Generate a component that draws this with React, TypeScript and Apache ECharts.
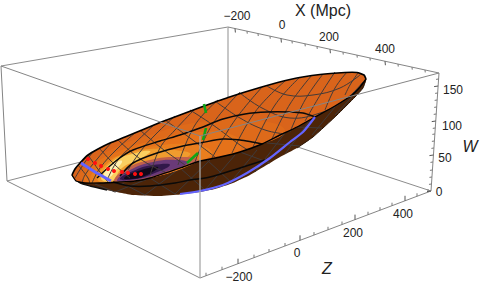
import React, { useEffect, useRef } from "react";
import * as echarts from "echarts";

type P = number[];

// Box edges
const backEdges: P[][] = [
  [[1, 66], [228, 27]],
  [[7, 181], [228, 124]],
  [[431, 191], [228, 124]],
];
const backVertical: P[][] = [[[228, 27], [228, 124]]];
const frontEdges: P[][] = [
  [[228, 27], [439, 73]],
  [[1, 66], [200, 136]],
  [[439, 73], [200, 136]],
  [[7, 181], [200, 278]],
  [[200, 278], [431, 191]],
  [[1, 66], [7, 181]],
  [[431, 191], [439, 73]],
];
const frontVertical: P[][] = [[[200, 136], [200, 278]]];

// Tick positions along the axes
const xMajor = [235, 281, 330, 385];
const xMinor = [247, 258, 270, 292, 305, 317, 343, 357, 370, 398, 412, 425];
const zMajor = [238, 300, 355, 405];
const zMinor = [206, 222, 254, 269, 285, 314, 328, 342, 368, 380, 392, 417, 428];
const wMajor = [191, 155, 121, 86];
const wMinor = [184, 177, 170, 162, 148, 141, 134, 128, 114, 107, 100, 93, 79];

const xTickLabels = ["−200", "0", "200", "400"];
const xLabelPos: P[] = [[237, 16], [282, 25], [329, 37], [385, 49]];
const zTickLabels = ["−200", "0", "200", "400"];
const zLabelPos: P[] = [[239, 277], [297, 253], [353, 233], [403, 214]];
const wTickLabels = ["0", "50", "100", "150"];
const wLabelPos: P[] = [[439, 192], [445, 158], [452, 126], [453, 90]];

// Surface
const body: P[] = [[366, 79], [363, 88], [355, 97], [337, 115], [313, 137], [297, 148], [280, 157], [265, 166], [250, 175], [233, 183], [215, 189], [200, 192], [180, 194.5], [160, 196], [133, 195], [107, 190], [90, 186], [80, 183], [72, 175]];
const topRim: P[] = [[72, 175], [75, 169], [80, 163], [88, 155], [98, 149], [110, 143], [125, 137], [142, 130], [160, 122.5], [180, 115], [200, 107.5], [228, 97.5], [260, 87.5], [290, 79.5], [320, 74.5], [345, 72.5], [357, 72.5], [364, 75], [366, 79]];
const frontRim: P[] = [[366, 79], [360, 87], [352, 95], [335, 106], [315, 117], [297, 127], [280, 135], [262, 144], [240, 152], [220, 157], [200, 161], [183, 167], [150, 178], [135, 181], [120, 182], [100, 183], [85, 183], [76, 181], [72, 175]];
const lens: P[] = [...topRim, ...frontRim];

const shades: P[][] = [
  [[80, 178], [88, 165], [110, 150], [150, 135], [200, 122], [250, 120], [285, 130], [260, 145], [210, 158], [150, 178], [100, 183]],
  [[84, 180], [92, 166], [115, 153], [155, 140], [200, 132], [235, 136], [240, 150], [210, 158], [150, 178], [100, 183]],
  [[90, 181], [100, 165], [120, 155], [155, 146], [195, 145], [212, 152], [205, 159], [150, 178], [100, 183]],
  [[97, 179], [108, 163], [125, 154], [150, 149], [175, 150], [190, 155], [150, 172], [115, 182]],
  [[101, 178], [112, 162], [128, 155], [150, 151], [140, 159], [122, 168], [112, 181]],
  [[104, 174], [113, 164], [122, 161], [116, 170], [108, 178]],
  [[114, 181], [126, 169], [150, 160], [180, 157], [198, 160], [183, 167], [150, 178], [125, 182]],
  [[117, 180], [130, 170], [153, 162], [178, 160], [188, 163], [165, 172], [145, 178], [125, 181]],
  [[120, 179], [133, 171], [153, 165], [170, 165], [150, 175], [135, 179]],
  [[124, 178], [138, 171], [158, 167], [147, 175], [132, 179]],
];
const shadeColors = ["#de6a1a", "#e5721a", "#e97e1e", "#f09c2e", "#fbd060", "#fff0b0", "#c0604c", "#6a3a78", "#32184a", "#10081a"];

const meshTop: P[][] = [
  [[358, 73], [350, 85], [345, 95]],
  [[347, 72], [335, 88], [325, 110]],
  [[335, 72], [322, 92], [305, 121]],
  [[323, 74], [305, 100], [290, 132]],
  [[312, 75], [290, 104], [272, 139]],
  [[300, 77], [275, 105], [253, 147]],
  [[285, 81], [255, 112], [232, 153]],
  [[263, 86], [235, 120], [212, 158]],
  [[240, 92], [212, 125], [195, 162]],
  [[218, 100], [195, 125], [178, 165]],
  [[195, 109], [175, 130], [160, 148], [150, 176]],
  [[175, 116], [155, 135], [140, 152], [128, 170]],
  [[155, 124], [135, 143], [118, 160], [108, 178]],
  [[135, 133], [118, 148], [100, 168], [92, 183]],
  [[112, 142], [98, 158], [85, 175], [82, 183]],
  [[95, 150], [85, 162], [75, 178]],
  [[267, 86], [287, 95], [313, 95], [340, 88], [360, 75]],
  [[240, 93], [262, 108], [290, 118], [320, 113], [345, 100], [363, 82]],
  [[215, 101], [240, 118], [265, 130], [285, 134]],
  [[190, 110], [213, 125], [240, 145], [248, 150]],
  [[165, 120], [190, 138], [215, 157]],
  [[140, 130], [160, 147], [185, 165]],
  [[118, 140], [135, 155], [150, 165], [165, 172]],
  [[100, 149], [115, 165], [130, 178]],
  [[88, 155], [100, 172], [108, 182]],
  [[78, 165], [88, 178], [90, 184]],
];
const meshUnder: P[][] = [
  [[240, 152], [270, 163]],
  [[207, 160], [232, 183]],
  [[180, 168], [205, 190]],
  [[150, 178], [175, 194]],
  [[120, 182], [145, 195]],
  [[95, 184], [115, 192]],
  [[267, 143], [300, 146]],
  [[297, 127], [322, 128]],
  [[230, 183], [257, 150]],
  [[205, 190], [235, 155]],
  [[175, 194], [210, 160]],
  [[145, 195], [180, 168]],
  [[115, 192], [150, 178]],
  [[255, 172], [285, 133]],
  [[285, 154], [310, 120]],
  [[312, 135], [335, 107]],
  [[335, 115], [352, 97]],
];

const contours: P[][] = [
  [[97, 178], [117, 160], [133, 150], [160, 141], [180, 135], [200, 128], [223, 119], [245, 114], [267, 112], [290, 112], [303, 113], [315, 117]],
  [[120, 176], [133, 163], [157, 153], [183, 146], [200, 143], [223, 139], [240, 140], [252, 142], [262, 144]],
  [[113, 182], [130, 186], [150, 186], [175, 183], [190, 180], [210, 177], [240, 168], [265, 160]],
];
const blueUnder: P[] = [[315, 117], [303, 132], [290, 142], [270, 158], [247, 173], [223, 185], [200, 191], [180, 194]];
const blueLeft: P[] = [[81, 163], [95, 172], [111, 181]];

const redW = [88, 95, 101, 108, 114, 122, 128, 135, 141];
const redY = [159, 163, 166, 169, 171, 172, 173, 174, 174];
const greenSegments: P[][] = [
  [[204, 104], [206, 113]],
  [[206, 128], [203, 140]],
  [[198, 153], [187, 163]],
];

const lineSeries = (name: string, lines: P[][], stroke: string, lineWidth: number, z: number, smooth = 0) => ({
  type: "custom",
  name,
  coordinateSystem: "cartesian2d",
  clip: false,
  silent: true,
  z,
  data: lines.map((_, i) => [i, 0]),
  renderItem: (params: any, api: any) => ({
    type: "polyline",
    shape: { points: lines[params.dataIndex].map((p) => api.coord(p)), smooth },
    style: { stroke, lineWidth, fill: "none" },
  }),
});

const areaSeries = (name: string, areas: P[][], colors: string[], z: number, smooth = 0) => ({
  type: "custom",
  name,
  coordinateSystem: "cartesian2d",
  clip: false,
  silent: true,
  z,
  data: areas.map((_, i) => [i, 0]),
  renderItem: (params: any, api: any) => ({
    type: "polygon",
    shape: { points: areas[params.dataIndex].map((p) => api.coord(p)), smooth },
    style: { fill: colors[params.dataIndex], stroke: "none" },
  }),
});

const textSeries = (name: string, labels: string[], pos: P[], fontSize: number, fontStyle: string, z: number) => ({
  type: "custom",
  name,
  coordinateSystem: "cartesian2d",
  clip: false,
  silent: true,
  z,
  data: labels.map((_, i) => [i, 0]),
  renderItem: (params: any, api: any) => {
    const c = api.coord(pos[params.dataIndex]);
    return {
      type: "text",
      x: c[0],
      y: c[1],
      style: {
        text: labels[params.dataIndex],
        fontFamily: "Liberation Sans",
        fontSize,
        fontStyle,
        fill: "#222",
        align: "center",
        verticalAlign: "middle",
      },
    };
  },
});

const along = (a: P, b: P, x: number): P => [x, a[1] + ((x - a[0]) * (b[1] - a[1])) / (b[0] - a[0])];
const tickX = (xs: number[], len: number): P[][] =>
  xs.map((x) => {
    const p = along([228, 27], [439, 73], x);
    return [p, [p[0] + len * 0.1, p[1] + len]];
  });
const tickZ = (xs: number[], len: number): P[][] =>
  xs.map((x) => {
    const p = along([200, 278], [431, 191], x);
    return [p, [p[0], p[1] - len]];
  });
const tickW = (ys: number[], len: number): P[][] =>
  ys.map((y) => {
    const px = 431 + ((191 - y) * 8) / 118;
    return [[px, y], [px - len, y + len * 0.15]];
  });

export default function App() {
  const ref = useRef<HTMLDivElement>(null);
  useEffect(() => {
    const chart = echarts.init(ref.current!, undefined, { renderer: "svg" });
    chart.setOption({
      animation: false,
      backgroundColor: "#fff",
      grid: { left: 0, right: 0, top: 0, bottom: 0 },
      xAxis: { type: "value", min: 0, max: 480, show: false },
      yAxis: { type: "value", min: 0, max: 286, inverse: true, show: false },
      series: [
        lineSeries("back box", backEdges, "#8c8c8c", 1, 1),
        lineSeries("back vertical", backVertical, "#b4b4b4", 1.5, 1),
        areaSeries("underside", [body], ["#4c2408"], 2, 0.15),
        lineSeries("under edge", [body.slice(0, 6)], "#2a1404", 1, 3, 0.15),
        lineSeries("left edge", [body.slice(15)], "#111", 1.3, 3, 0.15),
        lineSeries("under mesh", meshUnder, "#3f3a3a", 1, 3),
        areaSeries("orange surface", [lens], ["#d9641b"], 5, 0.1),
        areaSeries("shading", shades, shadeColors, 6, 0.5),
        lineSeries("mesh", meshTop, "#433a38", 1, 7, 0.4),
        lineSeries("contours", contours, "#0a0a0a", 1.5, 8, 0.3),
        lineSeries("top rim", [topRim], "#000", 1.7, 8, 0.15),
        lineSeries("front rim", [frontRim], "#000", 1.4, 8, 0.15),
        lineSeries("blue under", [blueUnder], "#6464ff", 2.2, 9, 0.2),
        lineSeries("blue left", [blueLeft], "#6464ff", 3, 9),
        {
          type: "custom",
          name: "red points",
          coordinateSystem: "cartesian2d",
          clip: false,
          silent: true,
          z: 10,
          data: redW.map((x, i) => [x, redY[i]]),
          renderItem: (_: any, api: any) => {
            const c = api.coord([api.value(0), api.value(1)]);
            return { type: "circle", shape: { cx: c[0], cy: c[1], r: 2 }, style: { fill: "#ff1010" } };
          },
        },
        lineSeries("green", greenSegments, "#10a518", 2.6, 10),
        lineSeries("front box", frontEdges, "#858585", 1, 11),
        lineSeries("front vertical", frontVertical, "#a8a8a8", 1.3, 11),
        lineSeries("x major", tickX(xMajor, 4), "#555", 1, 11),
        lineSeries("x minor", tickX(xMinor, 2.5), "#777", 1, 11),
        lineSeries("z major", tickZ(zMajor, 5), "#555", 1, 11),
        lineSeries("z minor", tickZ(zMinor, 3), "#777", 1, 11),
        lineSeries("w major", tickW(wMajor, 4), "#555", 1, 11),
        lineSeries("w minor", tickW(wMinor, 2.5), "#777", 1, 11),
        textSeries("x ticks", xTickLabels, xLabelPos, 12, "normal", 12),
        textSeries("z ticks", zTickLabels, zLabelPos, 12, "normal", 12),
        textSeries("w ticks", wTickLabels, wLabelPos, 12, "normal", 12),
        textSeries("x name", ["X (Mpc)"], [[323, 10]], 16, "normal", 12),
        textSeries("axis names", ["Z", "W"], [[327, 268], [470, 146]], 16, "italic", 12),
      ],
    });
    return () => chart.dispose();
  }, []);
  return <div ref={ref} style={{ position: "absolute", left: 0, top: 0, width: 480, height: 286 }} />;
}
